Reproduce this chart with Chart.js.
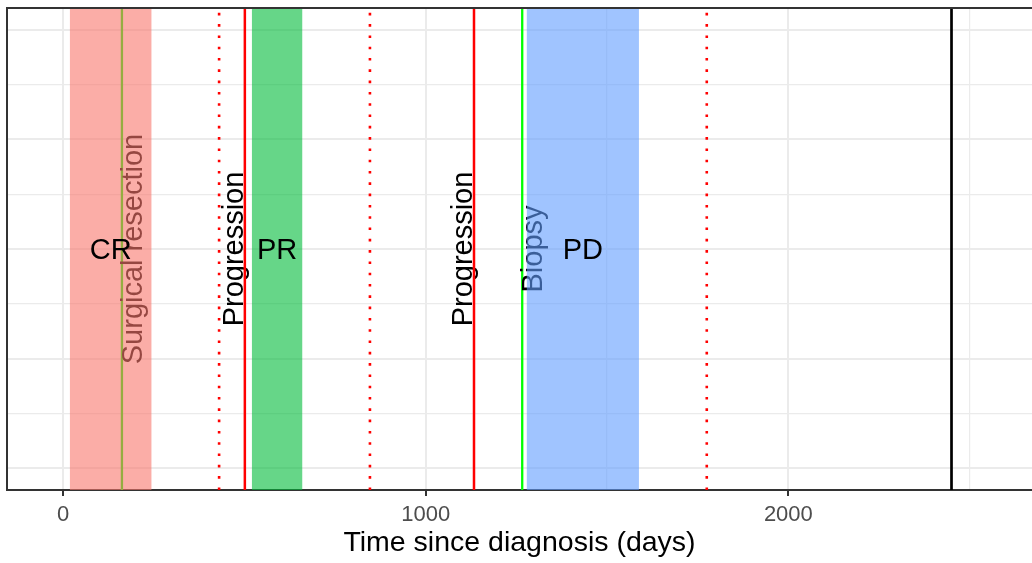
<!DOCTYPE html>
<html><head><meta charset="utf-8">
<script src="https://cdn.jsdelivr.net/npm/chart.js@4/dist/chart.umd.min.js"></script>
<style>html,body{margin:0;padding:0;background:#fff;overflow:hidden}#wrap{width:1032px;height:563px}</style>
</head><body><div id="wrap"><canvas id="c" width="1032" height="563"></canvas></div>
<script>
// ---- data ----
const responseLabels = ['CR', 'PR', 'PD'];
const responseStart = [18, 520, 1278];
const responseEnd = [244, 660, 1588];
const procedureLabels = ['Surgical resection', 'Biopsy'];
const procedureDays = [162, 1266];
const progressionLabels = ['Progression', 'Progression'];
const progressionDays = [501, 1133];
const assessmentDays = [430, 846, 1775];
const lastFollowUpDays = [2450];
const xTicks = [0, 500, 1000, 1500, 2000, 2500];
const xLabelTicks = [0, 1000, 2000];
const yGridTicks = [1, 1.5, 2, 2.5, 3, 3.5, 4, 4.5, 5];
const labelRow = 3;
const xRange = [-155, 2672];
const yRange = [0.8, 5.2];

// ---- styles ----
const FONT = '"Liberation Sans", Arial, Helvetica, sans-serif';
const responseColors = ['rgba(248,118,109,0.6)', 'rgba(0,186,56,0.6)', 'rgba(97,156,255,0.6)'];
const ANN_SIZE = 29;

function vline(x) { return [{x: x, y: yRange[0]}, {x: x, y: yRange[1]}]; }
const base = {showLine: true, pointRadius: 0, pointHoverRadius: 0, fill: false, tension: 0};
const datasets = [];
procedureDays.forEach((d, i) => datasets.push(Object.assign({}, base, {
  kind: 'procedure', label: procedureLabels[i], data: vline(d), borderColor: '#00FF00', borderWidth: 2.3, order: 40})));
responseStart.forEach((s, i) => datasets.push(Object.assign({}, base, {
  kind: 'response', label: responseLabels[i],
  data: [{x: s, y: yRange[1]}, {x: responseEnd[i], y: yRange[1]}],
  fill: 'start', backgroundColor: responseColors[i], borderColor: 'rgba(0,0,0,0)', borderWidth: 1, order: 30})));
assessmentDays.forEach(d => datasets.push(Object.assign({}, base, {
  kind: 'assessment', data: vline(d), borderColor: '#FF0000', borderWidth: 2.6, borderDash: [2.6, 8.7], borderCapStyle: 'butt', order: 20})));
progressionDays.forEach((d, i) => datasets.push(Object.assign({}, base, {
  kind: 'progression', label: progressionLabels[i], data: vline(d), borderColor: '#FF0000', borderWidth: 2.5, order: 20})));
lastFollowUpDays.forEach(d => datasets.push(Object.assign({}, base, {
  kind: 'last', data: vline(d), borderColor: '#000000', borderWidth: 2.7, order: 10})));

function rotText(ctx, text, x, y, baseline, color) {
  ctx.save();
  ctx.translate(x, y);
  ctx.rotate(-Math.PI / 2);
  ctx.font = ANN_SIZE + 'px ' + FONT;
  ctx.fillStyle = color;
  ctx.textAlign = 'center';
  ctx.textBaseline = baseline;
  ctx.fillText(text, 0, 0);
  ctx.restore();
}

const counts = {};
const annot = {
  id: 'annot',
  beforeDatasetsDraw() { counts.procedure = 0; counts.response = 0; },
  afterDatasetDraw(chart, args) {
    const ds = chart.data.datasets[args.index];
    const xs = chart.scales.x, ys = chart.scales.y, ctx = chart.ctx;
    const yc = ys.getPixelForValue(labelRow);
    ctx.save();
    const a = chart.chartArea;
    ctx.beginPath(); ctx.rect(a.left, a.top, a.right - a.left, a.bottom - a.top); ctx.clip();
    if (ds.kind === 'procedure') {
      counts.procedure++;
      if (counts.procedure === procedureDays.length) {
        procedureDays.forEach((d, i) => rotText(ctx, procedureLabels[i], xs.getPixelForValue(d) + 20, yc, 'alphabetic', '#000000'));
      }
    }
    if (ds.kind === 'response') {
      counts.response++;
      if (counts.response === responseStart.length) {
        progressionDays.forEach((d, i) => rotText(ctx, progressionLabels[i], xs.getPixelForValue(d) - 2, yc, 'alphabetic', '#000000'));
      }
    }
    ctx.restore();
  },
  afterDatasetsDraw(chart) {
    const xs = chart.scales.x, ys = chart.scales.y, ctx = chart.ctx;
    const yc = ys.getPixelForValue(labelRow);
    ctx.save();
    ctx.font = ANN_SIZE + 'px ' + FONT;
    ctx.fillStyle = '#000000';
    ctx.textAlign = 'center';
    ctx.textBaseline = 'alphabetic';
    responseLabels.forEach((t, i) => {
      const xc = xs.getPixelForValue((responseStart[i] + responseEnd[i]) / 2);
      ctx.fillText(t, xc, yc + 0.358 * ANN_SIZE);
    });
    const a = chart.chartArea;
    ctx.strokeStyle = '#333333';
    ctx.lineWidth = 2;
    ctx.beginPath();
    ctx.moveTo(a.left - 1, a.top);
    ctx.lineTo(a.right, a.top);
    ctx.stroke();
    ctx.restore();
  }
};

new Chart(document.getElementById('c'), {
  type: 'scatter',
  data: {datasets: datasets},
  plugins: [annot],
  options: {
    responsive: false,
    animation: false,
    devicePixelRatio: 1,
    layout: {padding: {left: 7, top: 8, right: 0, bottom: 0}},
    plugins: {legend: {display: false}, tooltip: {enabled: false}},
    scales: {
      x: {
        type: 'linear', min: xRange[0], max: xRange[1],
        afterBuildTicks: s => { s.ticks = xTicks.map(v => ({value: v})); },
        afterFit: s => { s.height = 73; },
        ticks: {
          autoSkip: false, maxRotation: 0, padding: 6,
          callback: v => xLabelTicks.includes(v) ? String(v) : '',
          color: '#4D4D4D', font: {family: FONT, size: 22}
        },
        grid: {
          color: '#EBEBEB',
          lineWidth: c => (c.tick && c.tick.value % 1000 === 0) ? 2 : 1.2,
          tickColor: c => (c.tick && c.tick.value % 1000 === 0) ? '#333333' : 'rgba(0,0,0,0)',
          tickLength: 6, tickWidth: 2
        },
        border: {display: true, color: '#333333', width: 2},
        title: {display: true, text: 'Time since diagnosis (days)', color: '#000000',
                font: {family: FONT, size: 28.5}, padding: {top: 0, bottom: 3}}
      },
      y: {
        type: 'linear', min: yRange[0], max: yRange[1],
        afterBuildTicks: s => { s.ticks = yGridTicks.map(v => ({value: v})); },
        afterFit: s => { s.width = 0; },
        ticks: {display: false},
        grid: {
          color: '#EBEBEB',
          lineWidth: c => (c.tick && Number.isInteger(c.tick.value)) ? 2 : 1.2,
          drawTicks: false, tickLength: 0
        },
        border: {display: true, color: '#333333', width: 2}
      }
    }
  }
});
</script></body></html>
